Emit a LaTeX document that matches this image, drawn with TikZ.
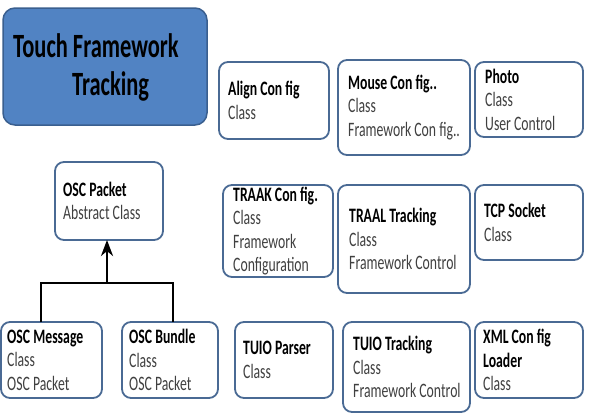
\documentclass[tikz,border=0pt]{standalone}
\usepackage{fontspec}
\setmainfont[FakeStretch=0.67]{Carlito}
\newfontfamily\titlefont[FakeStretch=0.66]{Carlito}
\usetikzlibrary{fit,arrows.meta}
\definecolor{boxline}{HTML}{4A6A94}
\definecolor{titlefill}{HTML}{5183C3}
\definecolor{titleline}{HTML}{3A5F8F}
\definecolor{subtxt}{HTML}{404040}
\tikzset{
  cbox/.style={draw=boxline, line width=1.8pt, rounded corners=9pt, inner sep=0pt, outer sep=0pt},
  tbox/.style={draw=titleline, fill=titlefill, line width=1.5pt, rounded corners=12pt, inner sep=0pt, outer sep=0pt},
  ctxt/.style={anchor=west, inner sep=0pt, align=left, text=subtxt, font={\fontsize{20.5}{23.5}\selectfont}},
  conn/.style={line width=2.6pt, black},
}
\newcommand{\hd}[1]{\textcolor{black}{\bfseries #1}}
\newcommand{\clsbox}[7]{%
  \node[cbox, fit={(#2,#3) (#4,#5)}] (#1) {};
  \node[ctxt] (#1-t) at ([xshift=#6pt]#1.west) {#7};
}
\begin{document}
\begin{tikzpicture}[x=1pt,y=-1pt]
\useasboundingbox (0,0) rectangle (590,415);
% title
\node[tbox, fit={(3,8) (207,125)}] (title) {};
\node[anchor=west, inner sep=0pt, align=left, font={\titlefont\bfseries\fontsize{34}{38}\selectfont}] (title-t) at ([xshift=10pt,yshift=-1pt]title.west) {Touch Framework\\\hspace*{59pt}Tracking};
% row 1
\clsbox{align}{219}{62}{329}{139}{9}{\hd{Align Con fig}\\Class}
\clsbox{mouse}{338}{60}{470}{155}{10}{\hd{Mouse Con fig..}\\Class\\Framework Con fig..}
\clsbox{photo}{475}{62}{583}{137}{10}{\hd{Photo}\\Class\\User Control}
% row 2
\clsbox{traak}{223}{185}{333}{277}{10}{\hd{TRAAK Con fig.}\\Class\\Framework\\Configuration}
\clsbox{traal}{338}{185}{470}{293}{11}{\hd{TRAAL Tracking}\\Class\\Framework Control}
\clsbox{tcp}{475}{185}{583}{260}{9}{\hd{TCP Socket}\\Class}
% row 3
\clsbox{parser}{235}{322}{333}{398}{8}{\hd{TUIO Parser}\\Class}
\clsbox{tuio}{343}{322}{470}{412}{10}{\hd{TUIO Tracking}\\Class\\Framework Control}
\clsbox{xml}{475}{322}{583}{398}{8}{\hd{XML Con fig}\\\hd{Loader}\\Class}
% OSC
\clsbox{pkt}{55}{162}{163}{240}{8}{\hd{OSC Packet}\\Abstract Class}
\clsbox{msg}{1}{322}{102}{398}{6}{\hd{OSC Message}\\Class\\OSC Packet}
\clsbox{bun}{122}{322}{218}{398}{7}{\hd{OSC Bundle}\\Class\\OSC Packet}
% connectors
\coordinate (jl) at (41,283);
\coordinate (jm) at (107,283);
\coordinate (jr) at (173,283);
\draw[conn] (msg.north -| jl) -- (jl) -- (jr) -- (bun.north -| jr);
\draw[conn, -{Stealth[length=16pt,width=12pt,inset=5pt]}] (jm) -- (pkt.south -| jm);
\end{tikzpicture}
\end{document}
